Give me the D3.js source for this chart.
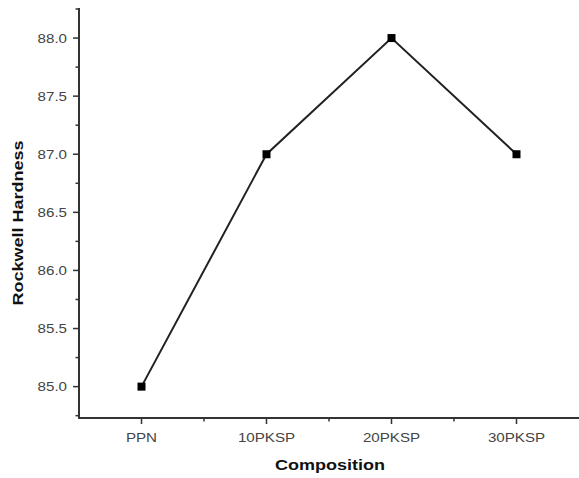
<!DOCTYPE html>
<html><head><meta charset="utf-8">
<script src="https://d3js.org/d3.v7.min.js"></script>
<style>html,body{margin:0;padding:0;background:#fff;}svg{display:block;}</style>
</head><body>
<script>
const categories = ["PPN", "10PKSP", "20PKSP", "30PKSP"];
const hardness = [85.0, 87.0, 88.0, 87.0];
const yTicks = [85.0, 85.5, 86.0, 86.5, 87.0, 87.5, 88.0];
const yMinor = [84.75, 85.25, 85.75, 86.25, 86.75, 87.25, 87.75, 88.25];
const xMinor = [0.5, 1.5, 2.5];
const xTitle = "Composition";
const yTitle = "Rockwell Hardness";

const W = 579, H = 478;
const svg = d3.select("body").append("svg").attr("width", W).attr("height", H);

const x = d3.scaleLinear().domain([-0.5, 3.5]).range([79, 579]);
const y = d3.scaleLinear().domain([84.73, 88.25]).range([418, 9]);

function stretch(sel, f) {
  sel.each(function(){ const L = this.getComputedTextLength(); d3.select(this).attr("textLength", L*f).attr("lengthAdjust","spacingAndGlyphs"); });
}

// X axis
const gx = svg.append("g").attr("transform", "translate(0,418)");
gx.append("line").attr("x1", 78).attr("x2", 579).attr("stroke", "#333").attr("stroke-width", 2);
gx.selectAll(".xt").data(categories).enter().append("line")
  .attr("x1", (d,i)=>x(i)).attr("x2",(d,i)=>x(i)).attr("y1",0).attr("y2",6)
  .attr("stroke","#333").attr("stroke-width",1.5);
gx.selectAll(".xm").data(xMinor).enter().append("line")
  .attr("x1", d=>x(d)).attr("x2",d=>x(d)).attr("y1",0).attr("y2",3.5)
  .attr("stroke","#333").attr("stroke-width",1.5);
gx.selectAll(".xl").data(categories).enter().append("text")
  .attr("x",(d,i)=>x(i)).attr("y",24).attr("text-anchor","middle")
  .attr("font-family","Arial, 'Liberation Sans', sans-serif").attr("font-size",13.5)
  .attr("fill","#444").text(d=>d).call(stretch, 1.12);

// Y axis
const gy = svg.append("g").attr("transform", "translate(79,0)");
gy.append("line").attr("y1", 8).attr("y2", 419).attr("stroke", "#333").attr("stroke-width", 2);
gy.selectAll(".yt").data(yTicks).enter().append("line")
  .attr("y1", d=>y(d)).attr("y2",d=>y(d)).attr("x1",0).attr("x2",-6)
  .attr("stroke","#333").attr("stroke-width",1.5);
gy.selectAll(".ym").data(yMinor).enter().append("line")
  .attr("y1", d=>y(d)).attr("y2",d=>y(d)).attr("x1",0).attr("x2",-3.5)
  .attr("stroke","#333").attr("stroke-width",1.5);
gy.selectAll(".yl").data(yTicks).enter().append("text")
  .attr("x",-12).attr("y",d=>y(d)).attr("dy","0.36em").attr("text-anchor","end")
  .attr("font-family","Arial, 'Liberation Sans', sans-serif").attr("font-size",13.5)
  .attr("fill","#444").text(d=>d.toFixed(1)).call(stretch, 1.12);

// Titles
svg.append("text").attr("x",330).attr("y",470).attr("text-anchor","middle")
  .attr("font-family","Arial, 'Liberation Sans', sans-serif").attr("font-weight","bold")
  .attr("font-size",15).attr("fill","#111").text(xTitle).call(stretch, 1.2);
svg.append("text").attr("transform","translate(23,223) rotate(-90)").attr("text-anchor","middle")
  .attr("font-family","Arial, 'Liberation Sans', sans-serif").attr("font-weight","bold")
  .attr("font-size",15).attr("fill","#111").text(yTitle).call(stretch, 1.2);

// Line
const line = d3.line().x((d,i)=>x(i)).y(d=>y(d));
svg.append("path").datum(hardness).attr("d", line).attr("fill","none")
  .attr("stroke","#222").attr("stroke-width",2);
svg.selectAll(".pt").data(hardness).enter().append("rect")
  .attr("x",(d,i)=>x(i)-4).attr("y",d=>y(d)-4).attr("width",8).attr("height",8).attr("fill","#000");
</script>
</body></html>
